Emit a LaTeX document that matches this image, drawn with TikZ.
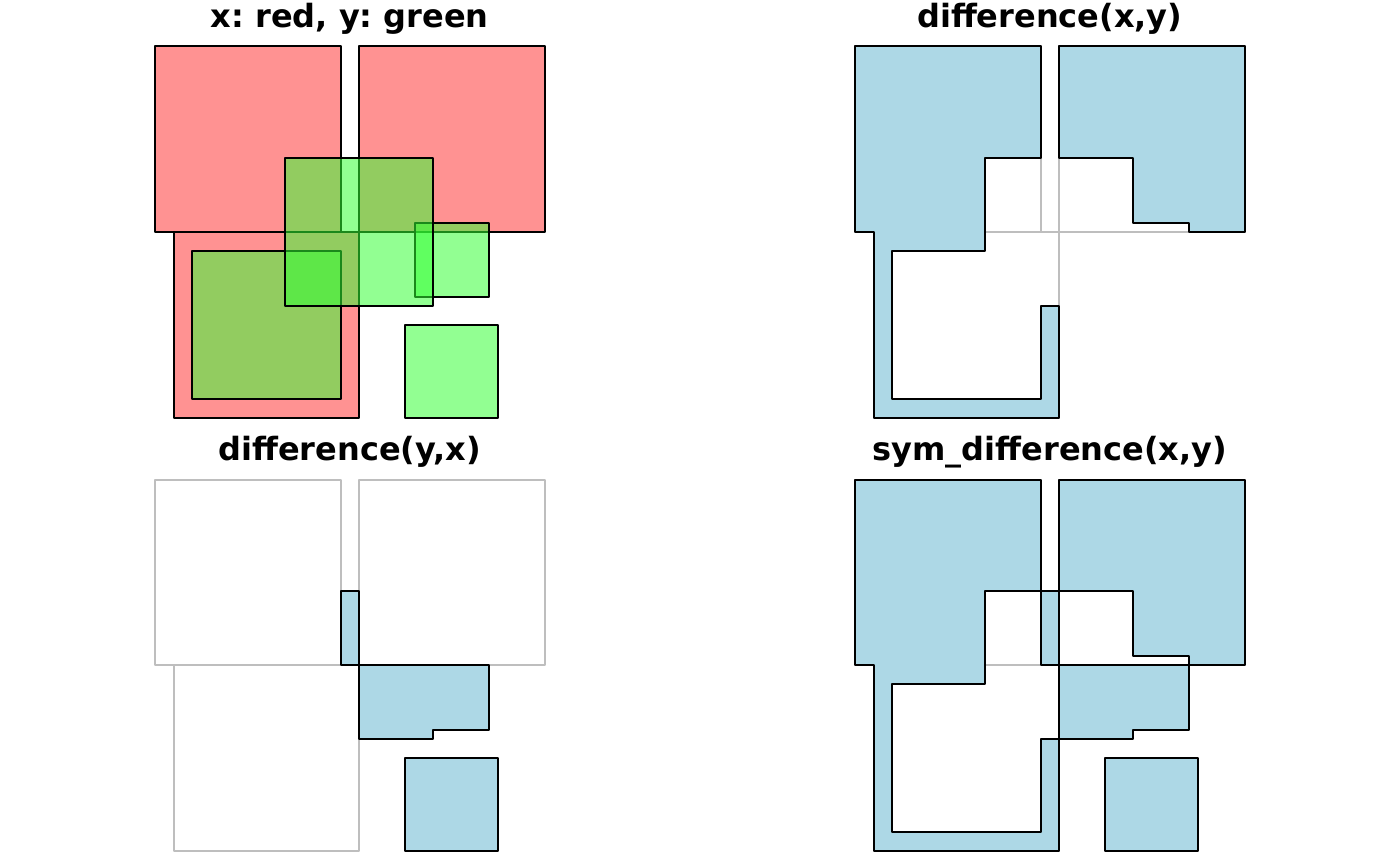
\documentclass[tikz,border=0pt]{standalone}
\usepackage{fontspec}
\setmainfont{DejaVu Sans}
\frenchspacing
\definecolor{xred}{RGB}{255,51,51}
\definecolor{ygreen}{RGB}{51,255,51}
\definecolor{lblue}{RGB}{173,216,230}
\definecolor{rgrey}{RGB}{190,190,190}
\newcommand{\mygreyx}{%
  \draw[gsq] (0,0) rectangle (1,1);
  \draw[gsq] (1.1,0) rectangle (2.1,1);
  \draw[gsq] (0.1,-1) rectangle (1.1,0);}
\newcommand{\myleftpoly}{%
  \filldraw[res] (0,1)--(1,1)--(1,0.4)--(0.7,0.4)--(0.7,-0.1)--(0.2,-0.1)--(0.2,-0.9)--(1.0,-0.9)--(1.0,-0.4)--(1.1,-0.4)--(1.1,-1)--(0.1,-1)--(0.1,0)--(0,0)--cycle;}
\newcommand{\myrightpoly}{%
  \filldraw[res] (1.1,1)--(2.1,1)--(2.1,0)--(1.8,0)--(1.8,0.05)--(1.5,0.05)--(1.5,0.4)--(1.1,0.4)--cycle;}
\newcommand{\myypieces}{%
  \filldraw[res] (1,0) rectangle (1.1,0.4);
  \filldraw[res] (1.1,0)--(1.8,0)--(1.8,-0.35)--(1.5,-0.35)--(1.5,-0.4)--(1.1,-0.4)--cycle;
  \filldraw[res] (1.35,-1) rectangle (1.85,-0.5);}
\begin{document}
\begin{tikzpicture}[
  xsq/.style={fill=xred, fill opacity=0.5333, draw=black, line width=1pt, line join=round},
  ysq/.style={fill=ygreen, fill opacity=0.5333, draw=black, line width=1pt, line join=round},
  gsq/.style={draw=rgrey, line width=1pt, line join=round},
  res/.style={fill=lblue, draw=black, line width=1pt, line join=round},
  ttl/.style={anchor=base, font=\fontsize{16}{19}\selectfont\bfseries, inner sep=0pt}
]
\useasboundingbox (0,0) rectangle (700pt,-432.5pt);
% panel 1
\begin{scope}[shift={(77.5pt,-116pt)}, x=92.75pt, y=92.75pt]
  \node[ttl] (t1) at (1.05,1.105) {x: red, y: green};
  \filldraw[xsq] (0,0) rectangle (1,1);
  \filldraw[xsq] (1.1,0) rectangle (2.1,1);
  \filldraw[xsq] (0.1,-1) rectangle (1.1,0);
  \filldraw[ysq] (0.2,-0.9) rectangle (1.0,-0.1);
  \filldraw[ysq] (1.4,-0.35) rectangle (1.8,0.05);
  \filldraw[ysq] (1.35,-1) rectangle (1.85,-0.5);
  \filldraw[ysq] (0.7,-0.4) rectangle (1.5,0.4);
\end{scope}
% panel 2
\begin{scope}[shift={(427.5pt,-116pt)}, x=92.75pt, y=92.75pt]
  \node[ttl] (t2) at (1.05,1.105) {difference(x,y)};
  \mygreyx
  \myleftpoly
  \myrightpoly
\end{scope}
% panel 3
\begin{scope}[shift={(77.5pt,-332.5pt)}, x=92.75pt, y=92.75pt]
  \node[ttl] (t3) at (1.05,1.105) {difference(y,x)};
  \mygreyx
  \myypieces
\end{scope}
% panel 4
\begin{scope}[shift={(427.5pt,-332.5pt)}, x=92.75pt, y=92.75pt]
  \node[ttl] (t4) at (1.05,1.105) {sym\_difference(x,y)};
  \mygreyx
  \myleftpoly
  \myrightpoly
  \myypieces
\end{scope}
\end{tikzpicture}
\end{document}
